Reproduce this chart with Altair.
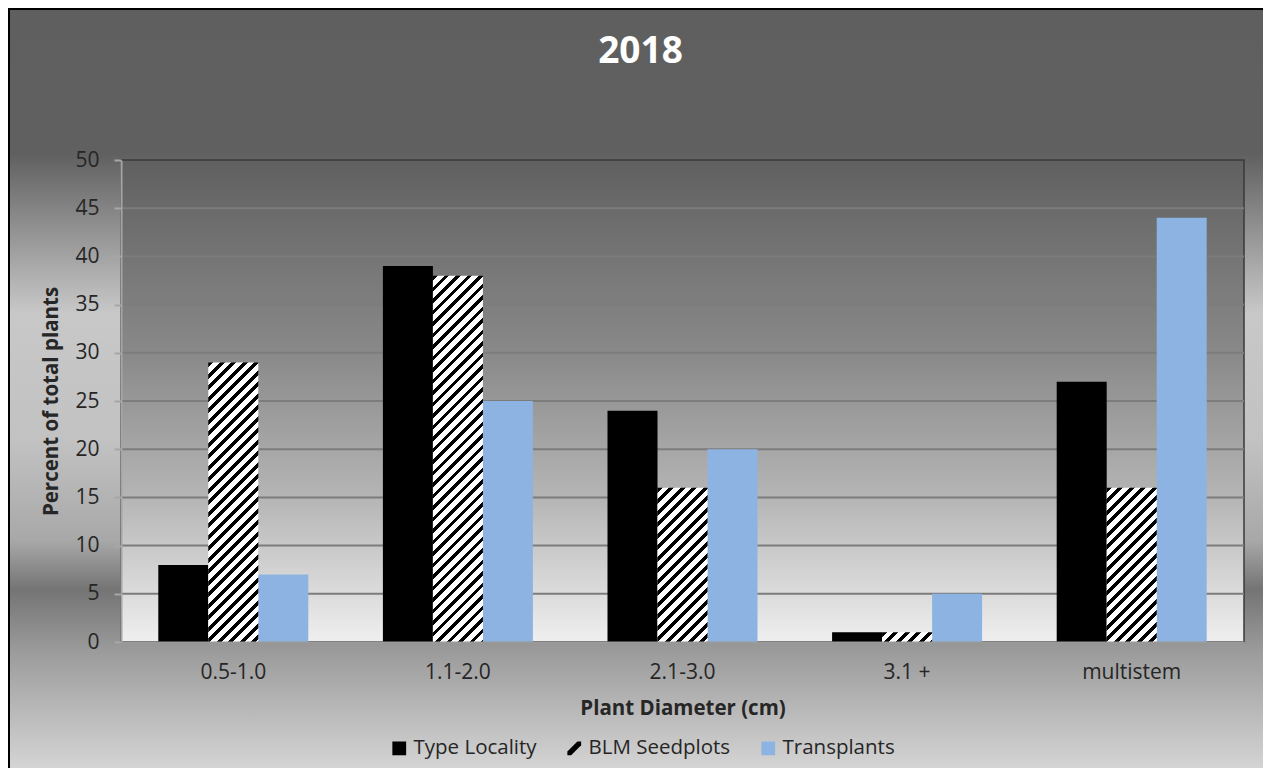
import altair as alt
import pandas as pd

# ---------------- data ----------------
categories = ["0.5-1.0", "1.1-2.0", "2.1-3.0", "3.1 +", "multistem"]
series_names = ["Type Locality", "BLM Seedplots", "Transplants"]
type_locality = [8, 39, 24, 1, 27]
blm_seedplots = [29, 38, 16, 1, 16]
transplants = [7, 25, 20, 5, 44]
y_ticks = [0, 5, 10, 15, 20, 25, 30, 35, 40, 45, 50]
grid_values = [5, 10, 15, 20, 25, 30, 35, 40, 45]
series_colors = ["#000000", "#000000", "#8DB3E2"]

rows = []
for name, vals in zip(series_names, [type_locality, blm_seedplots, transplants]):
    for c, v in zip(categories, vals):
        rows.append({"category": c, "series": name, "value": v})
df = pd.DataFrame(rows)

# ---------------- layout / style ----------------
W, H = 1123, 482
PAD = {"left": 113, "top": 152, "right": 19, "bottom": 126}
Y_MAX = 50
P_INNER = 1 - 150 / (W / 5)
BAR_W = (W / 5) * (1 - P_INNER) / 3
PERIOD = 11.5
BLACK = 0.42
FONT = "Open Sans"
TXT = "#262626"


def hatch(value):
    w = BAR_W
    h = value * H / Y_MAX
    s = w + h
    n = s / PERIOD
    stops = []
    k = 0
    while k < n:
        a = k / n
        b = min((k + BLACK) / n, 1.0)
        c = min((k + 1) / n, 1.0)
        stops += [
            {"offset": a, "color": "#000000"},
            {"offset": b, "color": "#000000"},
            {"offset": b, "color": "#ffffff"},
            {"offset": c, "color": "#ffffff"},
        ]
        k += 1
    d = w * w + h * h
    return {"gradient": "linear", "x1": 0, "y1": 0,
            "x2": w * s / d, "y2": h * s / d, "stops": stops}


total_h = PAD["top"] + H + PAD["bottom"]


def frac(py):
    return (py - 8) / (total_h + 5)


outer_stops = [(8, "#5f5f5f"), (150, "#606060"), (307, "#c8c8c8"), (430, "#c2c2c2"),
               (530, "#a8a8a8"), (578, "#747474"), (640, "#9c9c9c"), (total_h + 13, "#dedede")]
outer_grad = {"gradient": "linear", "x1": 0, "y1": 0, "x2": 0, "y2": 1,
              "stops": [{"offset": min(max(frac(p), 0), 1), "color": c} for p, c in outer_stops]}
plot_grad = {"gradient": "linear", "x1": 0, "y1": 0, "x2": 0, "y2": 1,
             "stops": [{"offset": 0, "color": "#606060"}, {"offset": 0.4, "color": "#898989"},
                       {"offset": 0.7, "color": "#b5b5b5"}, {"offset": 1, "color": "#efefef"}]}

stripe_path = "M-1,0.45L0.45,-1L1,-1L1,-0.45L-0.45,1L-1,1Z"

x_enc = alt.X("category:N", sort=categories,
              scale=alt.Scale(domain=categories, paddingInner=P_INNER, paddingOuter=P_INNER / 2),
              axis=alt.Axis(title="Plant Diameter (cm)", labelAngle=0, ticks=False,
                            labelPadding=19, titlePadding=16, domainColor="#9a9a9a",
                            domainWidth=2, grid=False, zindex=1))
y_enc = alt.Y("value:Q", scale=alt.Scale(domain=[0, Y_MAX], nice=False),
              axis=alt.Axis(title="Percent of total plants", values=y_ticks, grid=False,
                            tickSize=7, tickColor="#a6a6a6", tickWidth=2, labelPadding=15,
                            titlePadding=13, domainColor="#a6a6a6", domainWidth=2, zindex=1))
xo_enc = alt.XOffset("series:N", sort=series_names,
                     scale=alt.Scale(domain=series_names, paddingInner=0, paddingOuter=0))

one = pd.DataFrame({"d": [0]})
bg = alt.Chart(one).mark_rect(fill=outer_grad, stroke="#000000", strokeWidth=2).encode(
    x=alt.value(-PAD["left"] + 1), x2=alt.value(W + PAD["right"] + 20),
    y=alt.value(-PAD["top"] + 1), y2=alt.value(H + PAD["bottom"] + 20))
plot_bg = alt.Chart(one).mark_rect(fill=plot_grad, stroke="#3a3a3a", strokeWidth=1.5).encode(
    x=alt.value(0), x2=alt.value(W), y=alt.value(0), y2=alt.value(H))
grid = alt.Chart(pd.DataFrame({"value": grid_values})).mark_rule(
    color="#7c7c7c", strokeWidth=2).encode(y=y_enc)

tl_bars = alt.Chart(df).transform_filter(alt.datum.series == series_names[0]).mark_bar(
    color=series_colors[0]).encode(x=x_enc, xOffset=xo_enc, y=y_enc)
tr_bars = alt.Chart(df).transform_filter(alt.datum.series == series_names[2]).mark_bar(
    color=series_colors[2]).encode(x=x_enc, xOffset=xo_enc, y=y_enc)

hatch_layers = []
for c, v in zip(categories, blm_seedplots):
    hatch_layers.append(
        alt.Chart(df).transform_filter(
            (alt.datum.series == series_names[1]) & (alt.datum.category == c)
        ).mark_bar(fill=hatch(v)).encode(x=x_enc, xOffset=xo_enc, y=y_enc))

leg = alt.Legend(title=None, orient="none", direction="horizontal", legendX=268, legendY=578,
                 labelFont=FONT, labelFontSize=20.5, labelColor=TXT, symbolSize=190,
                 symbolOpacity=1, symbolStrokeWidth=0, labelOffset=4, columnPadding=27,
                 padding=0, zindex=2)
legend_layer = alt.Chart(pd.DataFrame({"series": series_names})).mark_point(
    filled=True, size=0).encode(
    fill=alt.Fill("series:N", sort=series_names,
                  scale=alt.Scale(domain=series_names, range=series_colors),
                  legend=leg),
    shape=alt.Shape("series:N", sort=series_names,
                    scale=alt.Scale(domain=series_names, range=["square", stripe_path, "square"]),
                    legend=leg))

chart = alt.layer(bg, plot_bg, grid, tl_bars, tr_bars, *hatch_layers, legend_layer).properties(
    width=W, height=H,
    title=alt.TitleParams("2018", font=FONT, fontSize=37, fontWeight="bold", color="#ffffff",
                          anchor="middle", frame="group", baseline="alphabetic",
                          offset=-92, dx=-42, zindex=2),
    autosize=alt.AutoSizeParams(type="none"),
    padding=PAD,
).configure_view(stroke=None).configure_axis(
    labelFont=FONT, titleFont=FONT, labelFontSize=21, titleFontSize=20.5,
    titleFontWeight="bold", labelColor=TXT, titleColor=TXT)

chart.save("out.html", embed_options={"renderer": "svg", "actions": False})
